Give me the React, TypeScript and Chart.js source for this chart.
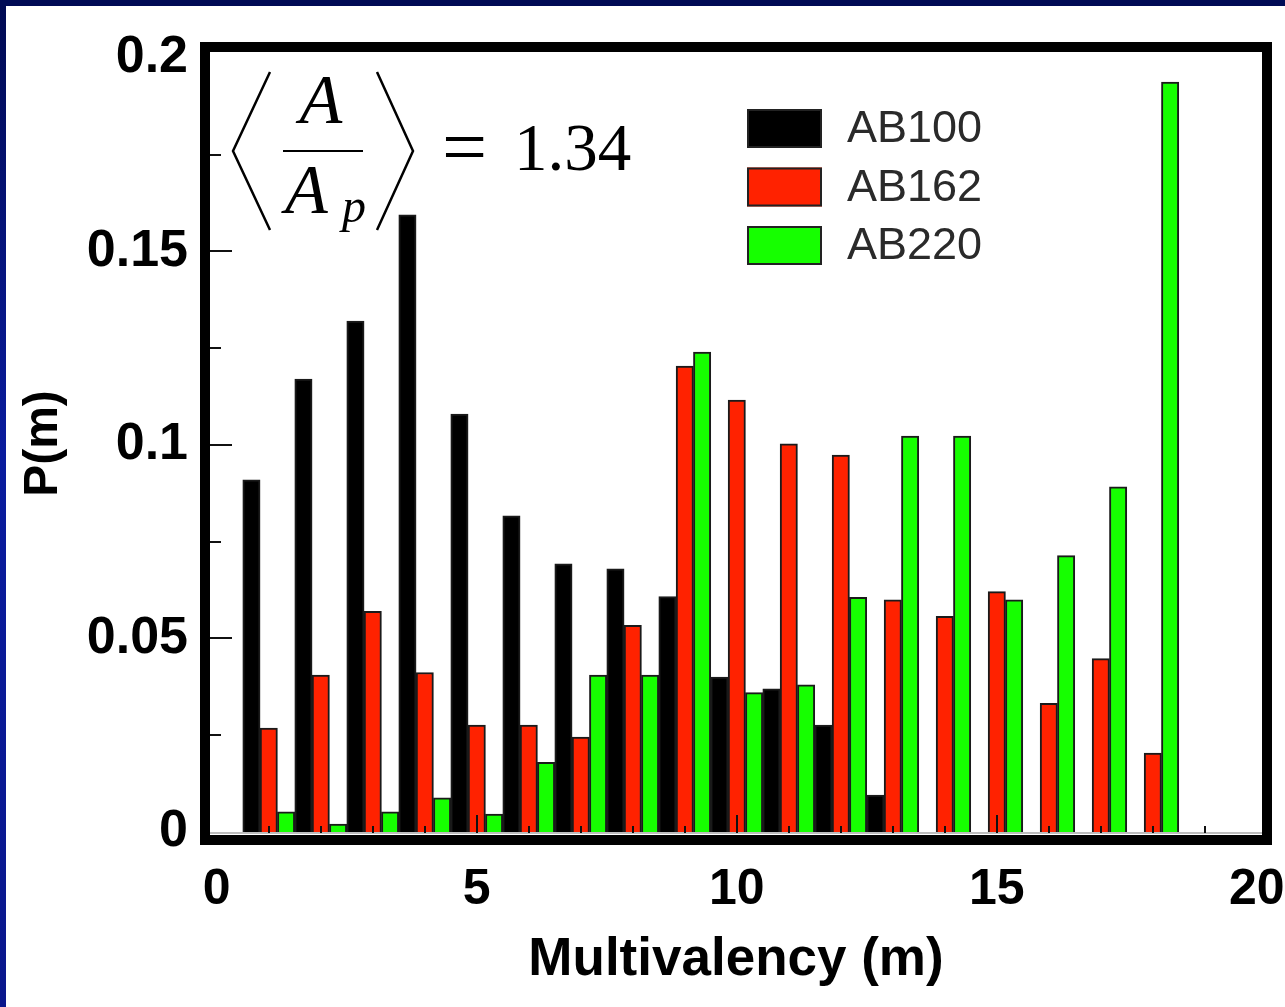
import React, { useEffect, useRef } from 'react';
import { Chart, registerables } from 'chart.js';

Chart.register(...registerables);

// ---- data ----
const mValues = [1, 2, 3, 4, 5, 6, 7, 8, 9, 10, 11, 12, 13, 14, 15, 16, 17, 18];
const ab100 = [0.091, 0.117, 0.132, 0.1595, 0.108, 0.0817, 0.0693, 0.068, 0.0608, 0.04, 0.037, 0.0276, 0.0095, 0, 0, 0, 0, 0];
const ab162 = [0.0268, 0.0405, 0.057, 0.0412, 0.0276, 0.0276, 0.0245, 0.0534, 0.1204, 0.1116, 0.1003, 0.0974, 0.06, 0.0557, 0.0621, 0.0332, 0.0448, 0.0204];
const ab220 = [0.0052, 0.002, 0.0052, 0.0088, 0.0046, 0.018, 0.0405, 0.0405, 0.124, 0.036, 0.038, 0.0606, 0.1023, 0.1023, 0.06, 0.0714, 0.0892, 0.1938];
const seriesNames = ['AB100', 'AB162', 'AB220'];
const seriesColors = ['#000000', '#ff2200', '#16ff00'];
const xTickValues = [0, 5, 10, 15, 20];
const xTickLabels = ['0', '5', '10', '15', '20'];
const yTickValues = [0, 0.05, 0.1, 0.15, 0.2];
const yTickLabels = ['0', '0.05', '0.1', '0.15', '0.2'];
const yMinorValues = [0.025, 0.075, 0.125, 0.175];
const xMinorValues = [1, 2, 3, 4, 6, 7, 8, 9, 11, 12, 13, 14, 16, 17, 18, 19];
const xMajorValues = [5, 10, 15];
const xTitle = 'Multivalency (m)';
const yTitle = 'P(m)';
const formulaNum = 'A';
const formulaDen = 'A';
const formulaSub = 'p';
const formulaValue = '1.34';

const SANS = "'Liberation Sans', Arial, sans-serif";
const SERIF = "'Liberation Serif', 'Times New Roman', serif";

function line(ctx: CanvasRenderingContext2D, x1: number, y1: number, x2: number, y2: number) {
  ctx.beginPath();
  ctx.moveTo(x1, y1);
  ctx.lineTo(x2, y2);
  ctx.stroke();
}

const decorPlugin = {
  id: 'decor',
  beforeDraw(chart: any) {
    const ctx: CanvasRenderingContext2D = chart.ctx;
    const W = chart.width;
    const H = chart.height;
    ctx.save();
    ctx.fillStyle = '#ffffff';
    ctx.fillRect(0, 0, W, H);
    const g = ctx.createLinearGradient(0, 0, 0, H);
    g.addColorStop(0, '#000a52');
    g.addColorStop(0.45, '#0a1c9e');
    g.addColorStop(1, '#0a178c');
    ctx.fillStyle = g;
    ctx.fillRect(0, 0, 6, H);
    ctx.fillStyle = '#000b55';
    ctx.fillRect(0, 0, W, 6);
    ctx.restore();
  },
  afterDatasetsDraw(chart: any) {
    const ctx: CanvasRenderingContext2D = chart.ctx;
    const { chartArea, scales } = chart;
    const x = scales.x;
    const y = scales.y;
    ctx.save();
    const y0 = y.getPixelForValue(0) + 1;
    ctx.strokeStyle = '#bdbdbd';
    ctx.lineWidth = 2;
    line(ctx, chartArea.left, y0, chartArea.right, y0);
    ctx.strokeStyle = '#111111';
    ctx.lineWidth = 2;
    xMinorValues.forEach((v) => {
      const px = Math.round(x.getPixelForValue(v));
      line(ctx, px, y0, px, y0 - 7);
    });
    xMajorValues.forEach((v) => {
      const px = Math.round(x.getPixelForValue(v));
      line(ctx, px, y0, px, y0 - 18);
    });
    yMinorValues.forEach((v) => {
      const py = Math.round(y.getPixelForValue(v));
      line(ctx, chartArea.left, py, chartArea.left + 11, py);
    });
    yTickValues.slice(1, -1).forEach((v) => {
      const py = Math.round(y.getPixelForValue(v));
      line(ctx, chartArea.left, py, chartArea.left + 22, py);
    });
    ctx.restore();
  },
  afterDraw(chart: any) {
    const ctx: CanvasRenderingContext2D = chart.ctx;
    const { chartArea } = chart;
    const L = chartArea.left;
    const T = chartArea.top;
    ctx.save();
    // frame
    ctx.strokeStyle = '#000000';
    ctx.lineWidth = 10;
    ctx.lineJoin = 'miter';
    ctx.strokeRect(L - 5, T - 5, chartArea.right - L + 10, chartArea.bottom - T + 10);

    // legend
    const lx = L + 537;
    seriesNames.forEach((name, i) => {
      const top = T + 57 + i * 58.5;
      ctx.fillStyle = seriesColors[i];
      ctx.fillRect(lx, top, 75, 39);
      ctx.strokeStyle = '#222222';
      ctx.lineWidth = 2;
      ctx.strokeRect(lx + 1, top + 1, 73, 37);
      ctx.fillStyle = '#2a2a2a';
      ctx.font = `45px ${SANS}`;
      ctx.textAlign = 'left';
      ctx.textBaseline = 'middle';
      ctx.fillText(name, lx + 100, top + 21);
    });

    // formula  < A / A_p > = 1.34
    ctx.strokeStyle = '#000000';
    ctx.fillStyle = '#000000';
    ctx.lineWidth = 2.5;
    ctx.beginPath();
    ctx.moveTo(L + 60, T + 20);
    ctx.lineTo(L + 23, T + 99);
    ctx.lineTo(L + 60, T + 178);
    ctx.stroke();
    ctx.beginPath();
    ctx.moveTo(L + 167, T + 20);
    ctx.lineTo(L + 203, T + 99);
    ctx.lineTo(L + 167, T + 178);
    ctx.stroke();
    ctx.lineWidth = 2;
    line(ctx, L + 73, T + 99, L + 153, T + 99);
    ctx.textBaseline = 'alphabetic';
    ctx.font = `italic 70px ${SERIF}`;
    ctx.textAlign = 'center';
    ctx.fillText(formulaNum, L + 111, T + 71);
    ctx.textAlign = 'left';
    ctx.fillText(formulaDen, L + 75, T + 161);
    ctx.font = `italic 48px ${SERIF}`;
    ctx.fillText(formulaSub, L + 132, T + 170);
    ctx.font = `80px ${SERIF}`;
    ctx.fillText('=', L + 232, T + 122);
    ctx.font = `67px ${SERIF}`;
    ctx.fillText(formulaValue, L + 304, T + 118);
    ctx.restore();
  },
};

export default function App() {
  const ref = useRef<HTMLCanvasElement>(null);
  useEffect(() => {
    const datasets = [ab100, ab162, ab220].map((vals, i) => ({
      label: seriesNames[i],
      data: mValues.map((m, j) => ({ x: m, y: vals[j] })),
      backgroundColor: seriesColors[i],
      borderColor: '#1a1a1a',
      borderWidth: 2,
      categoryPercentage: 1,
      barPercentage: 1,
    }));
    const chart = new Chart(ref.current as HTMLCanvasElement, {
      type: 'bar',
      data: { datasets } as any,
      plugins: [decorPlugin],
      options: {
        responsive: false,
        animation: false,
        devicePixelRatio: 1,
        layout: { padding: { top: 52, right: 23, left: 0, bottom: 0 } },
        plugins: { legend: { display: false }, tooltip: { enabled: false } },
        scales: {
          x: {
            type: 'linear',
            min: -0.13,
            max: 20.1,
            bounds: 'data',
            offset: false,
            grid: { display: false, drawTicks: false },
            border: { display: false },
            afterBuildTicks: (s: any) => {
              s.ticks = xTickValues.map((v) => ({ value: v }));
            },
            afterFit: (s: any) => {
              s.height = 172;
              s.paddingLeft = 0;
              s.paddingRight = 0;
            },
            ticks: {
              padding: 25,
              autoSkip: false,
              maxRotation: 0,
              color: '#000000',
              font: { family: SANS, size: 50, weight: 'bold' },
              callback: (v: any) => xTickLabels[xTickValues.indexOf(Number(v))] ?? '',
            },
            title: {
              display: true,
              text: xTitle,
              color: '#000000',
              font: { family: SANS, size: 53, weight: 'bold' },
              padding: { top: 0, bottom: 15 },
            },
          },
          y: {
            type: 'linear',
            min: -0.0008,
            max: 0.20155,
            bounds: 'data',
            grid: { display: false, drawTicks: false },
            border: { display: false },
            afterBuildTicks: (s: any) => {
              s.ticks = yTickValues.map((v) => ({ value: v }));
            },
            afterFit: (s: any) => {
              s.width = 210;
              s.paddingTop = 0;
              s.paddingBottom = 0;
            },
            ticks: {
              padding: 22,
              autoSkip: false,
              color: '#000000',
              font: { family: SANS, size: 52, weight: 'bold' },
              callback: (v: any) => yTickLabels[yTickValues.indexOf(Number(v))] ?? '',
            },
            title: {
              display: true,
              text: yTitle,
              color: '#000000',
              font: { family: SANS, size: 48, weight: 'bold' },
              padding: { top: 15, bottom: 0 },
            },
          },
        },
      } as any,
    });
    return () => chart.destroy();
  }, []);
  return (
    <div style={{ position: 'absolute', left: 0, top: 0, width: 1285, height: 1007, background: '#ffffff' }}>
      <canvas ref={ref} width={1285} height={1007} style={{ display: 'block', width: 1285, height: 1007 }} />
    </div>
  );
}
